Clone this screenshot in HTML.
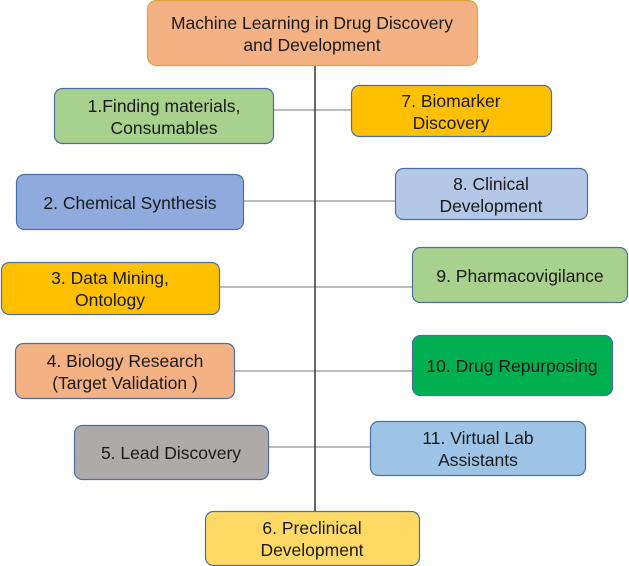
<!DOCTYPE html>
<html><head><meta charset="utf-8"><style>
html,body{margin:0;padding:0;background:#fff;}
svg{display:block;}
text{font-family:"Liberation Sans",Arial,sans-serif;font-size:17.5px;fill:#1a1a1a;text-anchor:middle;}
</style></head><body>
<svg width="629" height="566" viewBox="0 0 629 566" xmlns="http://www.w3.org/2000/svg">
<g stroke="#a6a6a6" stroke-width="1.5">
<line x1="273" y1="110" x2="351" y2="110"/>
<line x1="243" y1="201" x2="395" y2="201"/>
<line x1="219" y1="287" x2="412" y2="287"/>
<line x1="234" y1="371" x2="412" y2="371"/>
<line x1="268" y1="447" x2="370" y2="447"/>
</g>
<line x1="315" y1="66" x2="315" y2="511" stroke="#333" stroke-width="1.5"/>
<g stroke-width="1.2">
<rect x="147.5" y="0.5" width="330" height="65" rx="9" fill="#f4b183" stroke="#d9a53a"/>
<rect x="54.5" y="88.5" width="219" height="55" rx="8" fill="#a9d18e" stroke="#4a6fa8"/>
<rect x="351.5" y="85.5" width="200" height="51" rx="8" fill="#ffc000" stroke="#4a6fa8"/>
<rect x="16.5" y="174.5" width="227" height="55" rx="8" fill="#8faadc" stroke="#4a6fa8"/>
<rect x="395.5" y="168.5" width="192" height="51" rx="8" fill="#b4c7e7" stroke="#4a6fa8"/>
<rect x="1.5" y="262.5" width="218" height="52" rx="8" fill="#ffc000" stroke="#4a6fa8"/>
<rect x="412.5" y="247.5" width="215" height="55" rx="8" fill="#a9d18e" stroke="#4a6fa8"/>
<rect x="15.5" y="343.5" width="219" height="55" rx="8" fill="#f4b183" stroke="#4a6fa8"/>
<rect x="412.5" y="335.5" width="200" height="60" rx="8" fill="#00b050" stroke="#4a6fa8"/>
<rect x="74.5" y="425.5" width="194" height="54" rx="8" fill="#aeaaaa" stroke="#4a6fa8"/>
<rect x="370.5" y="421.5" width="215" height="54" rx="8" fill="#9dc3e6" stroke="#4a6fa8"/>
<rect x="205.5" y="511.5" width="214" height="54" rx="8" fill="#ffd966" stroke="#4a6fa8"/>
</g>
<text x="312" y="29">Machine Learning in Drug Discovery</text>
<text x="312" y="51">and Development</text>
<text x="164" y="112">1.Finding materials,</text>
<text x="164" y="134">Consumables</text>
<text x="451" y="107">7. Biomarker</text>
<text x="451" y="129">Discovery</text>
<text x="130" y="209">2. Chemical Synthesis</text>
<text x="491" y="190">8. Clinical</text>
<text x="491" y="212">Development</text>
<text x="110" y="284">3. Data Mining,</text>
<text x="110" y="306">Ontology</text>
<text x="520" y="282">9. Pharmacovigilance</text>
<text x="125" y="367">4. Biology Research</text>
<text x="125" y="389">(Target Validation )</text>
<text x="512" y="372">10. Drug Repurposing</text>
<text x="171" y="459">5. Lead Discovery</text>
<text x="478" y="444">11. Virtual Lab</text>
<text x="478" y="466">Assistants</text>
<text x="312" y="534">6. Preclinical</text>
<text x="312" y="556">Development</text>
</svg>
</body></html>
